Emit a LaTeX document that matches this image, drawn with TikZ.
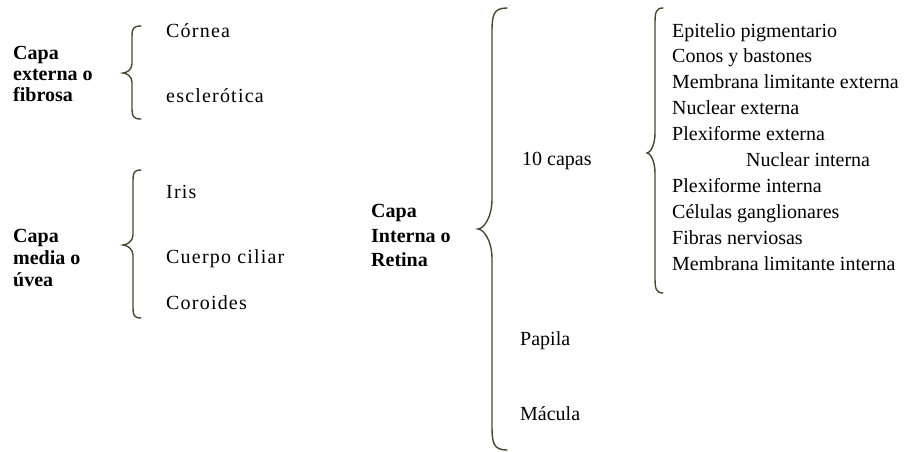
\documentclass[tikz,border=0pt]{standalone}
\usepackage{fontspec}
\setmainfont{Liberation Serif}
\newfontfamily\widefam{Liberation Serif}[LetterSpace=6]
\definecolor{bracecol}{RGB}{72,72,48}

% curly brace: stem x, tip x, end x, top y, tip y, bottom y, curl length, middle length
\newcommand{\curlybrace}[8]{%
  \draw[brace line] ({#3},{#4}) .. controls ({#1+1},{#4}) and ({#1},{#4+0.3*#7}) .. ({#1},{#4+#7})
    -- ({#1},{#5-#8}) .. controls ({#1},{#5-0.35*#8}) and ({#2+0.35*(#1-#2)},{#5}) .. ({#2},{#5})
    .. controls ({#2+0.35*(#1-#2)},{#5}) and ({#1},{#5+0.35*#8}) .. ({#1},{#5+#8})
    -- ({#1},{#6-#7}) .. controls ({#1},{#6-0.3*#7}) and ({#1+1},{#6}) .. ({#3},{#6});}

\begin{document}
\begin{tikzpicture}[x=1pt,y=-1pt,
  item/.style={anchor=base west,inner sep=0pt,font=\fontsize{20}{24}\selectfont},
  wideitem/.style={anchor=base west,inner sep=0pt,font=\widefam\fontsize{20}{24}\selectfont},
  head/.style={anchor=base west,inner sep=0pt,font=\bfseries\fontsize{20}{24}\selectfont},
  brace line/.style={draw=bracecol,line width=1.4pt,line cap=round}]
\useasboundingbox (0,0) rectangle (909,451);

% outer layer
\node[head] (ext1) at (13,59) {Capa};
\node[head] (ext2) at (13,80) {externa o};
\node[head] (ext3) at (13,101) {fibrosa};
\curlybrace{132}{123}{141}{26}{73}{119}{10}{9}
\node[wideitem] (cornea) at (166,37) {Córnea};
\node[wideitem] (escl) at (166,102) {esclerótica};

% middle layer
\node[head] (med1) at (13,242) {Capa};
\node[head] (med2) at (13,264) {media o};
\node[head] (med3) at (13,286) {úvea};
\curlybrace{133}{123}{141}{170}{245}{318}{10}{10}
\node[wideitem] (iris) at (166,198) {Iris};
\node[wideitem] (cuerpo) at (166,263) {Cuerpo ciliar};
\node[wideitem] (coroides) at (166,309) {Coroides};

% inner layer
\node[head] (int1) at (371,217) {Capa};
\node[head] (int2) at (371,242) {Interna o};
\node[head] (int3) at (371,266) {Retina};
\curlybrace{492}{478}{507}{8}{229}{450}{25}{30}
\node[item] (capas) at (522,165) {10 capas};
\node[item] (papila) at (520,345) {Papila};
\node[item] (macula) at (520,420) {Mácula};

% the ten layers of the retina
\curlybrace{655}{647}{663}{8}{153}{293}{15}{20}
\node[item] (l1) at (672,37) {Epitelio pigmentario};
\node[item] (l2) at (672,62.9) {Conos y bastones};
\node[item] (l3) at (672,88.8) {Membrana limitante externa};
\node[item] (l4) at (672,114.7) {Nuclear externa};
\node[item] (l5) at (672,140.6) {Plexiforme externa};
\node[item] (l6) at (746,166.5) {Nuclear interna};
\node[item] (l7) at (672,192.4) {Plexiforme interna};
\node[item] (l8) at (672,218.3) {Células ganglionares};
\node[item] (l9) at (672,244.2) {Fibras nerviosas};
\node[item] (l10) at (672,270.1) {Membrana limitante interna};
\end{tikzpicture}
\end{document}
